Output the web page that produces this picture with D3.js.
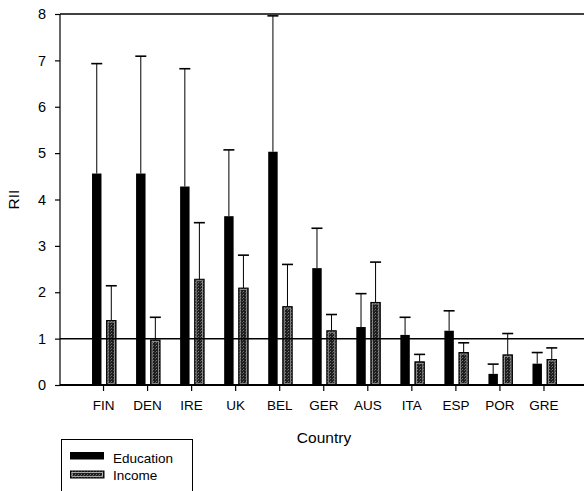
<!DOCTYPE html>
<html>
<head>
<meta charset="utf-8">
<script src="https://cdn.jsdelivr.net/npm/d3@7"></script>
<style>
  html, body { margin: 0; padding: 0; background: #fff; }
  svg { display: block; }
  text { font-family: "Liberation Sans", Arial, sans-serif; fill: #000; }
</style>
</head>
<body>
<svg id="chart" width="584" height="491"></svg>
<script>
const countries = ["FIN", "DEN", "IRE", "UK", "BEL", "GER", "AUS", "ITA", "ESP", "POR", "GRE"];
const series = ["Education", "Income"];
const educationValues = [4.56, 4.56, 4.28, 3.64, 5.03, 2.52, 1.25, 1.08, 1.17, 0.24, 0.46];
const educationUpper  = [6.93, 7.09, 6.82, 5.07, 7.96, 3.38, 1.97, 1.46, 1.60, 0.45, 0.70];
const incomeValues    = [1.39, 0.97, 2.28, 2.09, 1.69, 1.17, 1.78, 0.50, 0.70, 0.65, 0.55];
const incomeUpper     = [2.14, 1.46, 3.50, 2.80, 2.60, 1.52, 2.65, 0.66, 0.91, 1.11, 0.80];
const yTicks = [0, 1, 2, 3, 4, 5, 6, 7, 8];
const referenceValue = 1;
const xTitle = "Country";
const yTitle = "RII";

const svg = d3.select("#chart");
const W = 584;
const plotLeft = 60, plotTop = 14, plotBottom = 385;

// pattern for income bars (stipple)
const defs = svg.append("defs");
const pat = defs.append("pattern").attr("id", "stip").attr("patternUnits", "userSpaceOnUse")
  .attr("width", 3).attr("height", 3);
pat.append("rect").attr("width", 3).attr("height", 3).attr("fill", "#1e1e1e");
pat.append("rect").attr("x", 0).attr("y", 0).attr("width", 1).attr("height", 1).attr("fill", "#777");
pat.append("rect").attr("x", 2).attr("y", 1).attr("width", 1).attr("height", 1).attr("fill", "#555");

const y = d3.scaleLinear().domain([0, 8]).range([plotBottom, plotTop]);
const x = d3.scaleBand().domain(countries).range([81.5, 566]).padding(0);
const xs = d3.scaleBand().domain(series).range([-11.5, 12.5]).paddingInner(0.35);

const data = countries.map((c, i) => ({
  c,
  vals: [
    { s: "Education", v: educationValues[i], hi: educationUpper[i] },
    { s: "Income", v: incomeValues[i], hi: incomeUpper[i] }
  ]
}));

// frame lines
svg.append("line").attr("x1", plotLeft).attr("x2", W).attr("y1", plotTop).attr("y2", plotTop)
  .attr("stroke", "#000").attr("stroke-width", 1.5);
svg.append("line").attr("x1", plotLeft).attr("x2", plotLeft).attr("y1", plotTop).attr("y2", plotBottom)
  .attr("stroke", "#000").attr("stroke-width", 1.2);

// error bars
const g = svg.append("g");
data.forEach(d => {
  const cx = x(d.c) + x.bandwidth() / 2;
  d.vals.forEach(b => {
    const bx = cx + xs(b.s) + xs.bandwidth() / 2;
    g.append("line").attr("x1", bx).attr("x2", bx).attr("y1", y(b.v)).attr("y2", y(b.hi))
      .attr("stroke", "#000").attr("stroke-width", 1);
    g.append("line").attr("x1", bx - 5.5).attr("x2", bx + 5.5).attr("y1", y(b.hi)).attr("y2", y(b.hi))
      .attr("stroke", "#000").attr("stroke-width", 1.6);
  });
});

// bars
data.forEach(d => {
  const cx = x(d.c) + x.bandwidth() / 2;
  d.vals.forEach(b => {
    const bx = cx + xs(b.s);
    const bw = xs.bandwidth();
    if (b.s === "Education") {
      g.append("rect").attr("x", bx).attr("y", y(b.v)).attr("width", bw).attr("height", y(0) - y(b.v))
        .attr("fill", "#000");
    } else {
      g.append("rect").attr("x", bx).attr("y", y(b.v)).attr("width", bw).attr("height", y(0) - y(b.v))
        .attr("fill", "url(#stip)").attr("stroke", "#000").attr("stroke-width", 1);
      g.append("rect").attr("x", bx + 1.5).attr("y", y(b.v) + 1.5).attr("width", bw - 3)
        .attr("height", Math.max(0, y(0) - y(b.v) - 3))
        .attr("fill", "none").attr("stroke", "#a0a0a0").attr("stroke-width", 0.8);
    }
  });
});

// reference line at 1
svg.append("line").attr("x1", plotLeft).attr("x2", W).attr("y1", y(referenceValue)).attr("y2", y(referenceValue))
  .attr("stroke", "#000").attr("stroke-width", 1.5);

// bottom axis line
svg.append("line").attr("x1", plotLeft).attr("x2", W).attr("y1", plotBottom).attr("y2", plotBottom)
  .attr("stroke", "#000").attr("stroke-width", 2);

// y axis
const yAxis = svg.append("g").attr("transform", `translate(${plotLeft},0)`)
  .call(d3.axisLeft(y).tickValues(yTicks).tickFormat(d3.format("d")).tickSize(5).tickPadding(9));
yAxis.select(".domain").remove();
yAxis.selectAll("text").attr("font-size", 14.5).style("font-family", "Liberation Sans, Arial, sans-serif");
yAxis.selectAll("line").attr("stroke-width", 1.2);

// x axis
const xAxis = svg.append("g").attr("transform", `translate(0,${plotBottom})`)
  .call(d3.axisBottom(x).tickSize(6).tickPadding(9.5));
xAxis.select(".domain").remove();
xAxis.selectAll("text").attr("font-size", 13.5).style("font-family", "Liberation Sans, Arial, sans-serif");
xAxis.selectAll("line").attr("stroke-width", 1.2);

// titles
svg.append("text").attr("x", (plotLeft + 584) / 2 + 2).attr("y", 443)
  .attr("text-anchor", "middle").attr("font-size", 15.5).text(xTitle);
svg.append("text").attr("transform", `translate(19,${y(4)}) rotate(-90)`)
  .attr("text-anchor", "middle").attr("font-size", 15.5).text(yTitle);

// legend
const lg = svg.append("g");
lg.append("rect").attr("x", 61.5).attr("y", 439.5).attr("width", 131).attr("height", 80)
  .attr("fill", "#fff").attr("stroke", "#000").attr("stroke-width", 1);
lg.append("rect").attr("x", 70).attr("y", 452).attr("width", 34).attr("height", 7.5).attr("fill", "#000");
lg.append("rect").attr("x", 70.5).attr("y", 471).attr("width", 33.5).attr("height", 7)
  .attr("fill", "url(#stip)").attr("stroke", "#000").attr("stroke-width", 1);
lg.append("rect").attr("x", 72).attr("y", 472.5).attr("width", 30.5).attr("height", 4)
  .attr("fill", "none").attr("stroke", "#c8c8c8").attr("stroke-width", 0.8);
lg.append("text").attr("x", 113).attr("y", 462.5).attr("font-size", 13.5).text(series[0]);
lg.append("text").attr("x", 113).attr("y", 479.5).attr("font-size", 13.5).text(series[1]);
</script>
</body>
</html>
